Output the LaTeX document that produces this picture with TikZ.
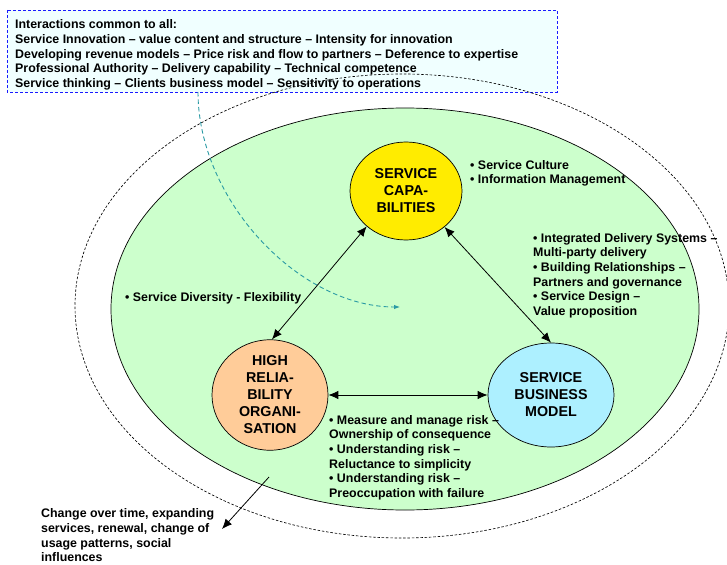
\documentclass[tikz,border=0pt]{standalone}
\usepackage{fontspec}
\setmainfont{Liberation Sans}
\usetikzlibrary{shapes.geometric,arrows.meta}

\definecolor{ringgreen}{HTML}{CCFFCC}
\definecolor{capyellow}{HTML}{FFEC00}
\definecolor{hroorange}{HTML}{FFCC99}
\definecolor{sbmblue}{HTML}{ADF0FF}
\definecolor{notefill}{HTML}{F0FFFF}
\definecolor{noteblue}{HTML}{1A1AFF}
\definecolor{flowteal}{HTML}{2A9AA4}

\tikzset{
  bodytext/.style={font=\bfseries\fontsize{12.4}{14.7}\selectfont, inner sep=0pt, align=left, anchor=north west},
  hub/.style={ellipse, draw=black, line width=0.7pt, inner sep=0pt, align=center,
              font=\bfseries\fontsize{14.3}{17}\selectfont},
  link/.style={line width=0.8pt, {Latex[length=10pt,width=8.5pt]}-{Latex[length=10pt,width=8.5pt]}},
  outward/.style={line width=0.8pt, -{Latex[length=10pt,width=8.5pt]}},
  notebox/.style={draw=noteblue, fill=notefill, dashed, dash pattern=on 3pt off 2pt, line width=0.7pt}
}

\begin{document}
\begin{tikzpicture}[x=1pt,y=-1pt]
\useasboundingbox (0,0) rectangle (727,564);

% shared interactions note
\draw[notebox] (7,10) rectangle (557,92);
\node[bodytext] (note) at (15,19.5) {Interactions common to all:\\
Service Innovation – value content and structure – Intensity for innovation\\
Developing revenue models – Price risk and flow to partners – Deference to expertise\\
Professional Authority – Delivery capability – Technical competence\\
Service thinking – Clients business model – Sensitivity to operations};

% environment boundary and organisation
\draw[line width=0.65pt, dash pattern=on 2.5pt off 1.8pt] (402,306) ellipse [x radius=327, y radius=232];
\draw[fill=ringgreen, line width=0.7pt] (405,309) ellipse [x radius=294, y radius=201];

% interactions flowing into the organisation
\coordinate (flowstart) at (198,92);
\coordinate (flowend) at (400,307);
\draw[flowteal, line width=0.9pt, dash pattern=on 4.5pt off 3pt, -{Latex[length=6pt,width=4.5pt]}]
  (flowstart) .. controls (198,200) and (299,307) .. (flowend);

% three capability hubs
\node[hub, fill=capyellow, minimum width=112pt, minimum height=98pt] (cap) at (406,191) {SERVICE\\CAPA-\\BILITIES};
\node[hub, fill=hroorange, minimum width=116pt, minimum height=106pt] (hro) at (270,395) {HIGH\\RELIA-\\BILITY\\ORGANI-\\SATION};
\node[hub, fill=sbmblue, minimum width=126pt, minimum height=104pt] (sbm) at (551,395) {SERVICE\\BUSINESS\\MODEL};

\draw[link] (cap.222) -- (hro.88);
\draw[link] (cap.317) -- (sbm.90);
\draw[link] (hro.east) -- (sbm.west);

% change over time
\coordinate (drift) at (269,477);
\coordinate (driftend) at (222,529);
\draw[outward] (drift) -- (driftend);

% annotations
\node[bodytext] (capnote) at (470,160) {• Service Culture\\• Information Management};
\node[bodytext] (sbmnote) at (533,233) {• Integrated Delivery Systems –\\Multi-party delivery\\• Building Relationships –\\Partners and governance\\• Service Design –\\Value proposition};
\node[bodytext] (divnote) at (125,292) {• Service Diversity - Flexibility};
\node[bodytext] (risknote) at (329,415) {• Measure and manage risk –\\Ownership of consequence\\• Understanding risk –\\Reluctance to simplicity\\• Understanding risk –\\Preoccupation with failure};
\node[bodytext] (changenote) at (41,508.5) {Change over time, expanding\\services, renewal, change of\\usage patterns, social\\influences};
\end{tikzpicture}
\end{document}
